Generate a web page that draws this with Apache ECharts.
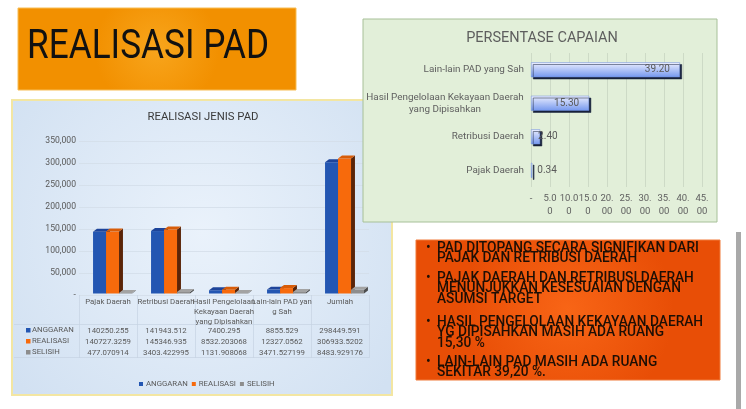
<!DOCTYPE html>
<html><head><meta charset="utf-8">
<script src="https://cdn.jsdelivr.net/npm/echarts@6/dist/echarts.min.js"></script>
<style>html,body{margin:0;padding:0;background:#fff;}#c{width:746px;height:409px;}</style>
</head><body><div id="c"></div>
<script>
// ---- data ----
const jenisCategories = ['Pajak Daerah', 'Retribusi Daerah', 'Hasil Pengelolaan\nKekayaan Daerah\nyang Dipisahkan', 'Lain-lain PAD yan\ng Sah', 'Jumlah'];
const anggaran = [140250.255, 141943.512, 7400.295, 8855.529, 298449.591];
const realisasi = [140727.3259, 145346.935, 8532.203068, 12327.0562, 306933.5202];
const selisih = [477.070914, 3403.422995, 1131.908068, 3471.527199, 8483.929176];
const seriesNames = ['ANGGARAN', 'REALISASI', 'SELISIH'];
const capaianCategories = ['Pajak Daerah', 'Retribusi Daerah', 'Hasil Pengelolaan Kekayaan Daerah\nyang Dipisahkan', 'Lain-lain PAD yang Sah'];
const capaianValues = [0.34, 2.40, 15.30, 39.20];
const capaianTickLabels = ['-', '5.0\n0', '10.0\n0', '15.0\n0', '20.\n00', '25.\n00', '30.\n00', '35.\n00', '40.\n00', '45.\n00'];
const bulletTexts = [
  'PAD DITOPANG SECARA SIGNIFIKAN DARI\nPAJAK DAN RETRIBUSI DAERAH',
  'PAJAK DAERAH DAN RETRIBUSI DAERAH\nMENUNJUKKAN KESESUAIAN DENGAN\nASUMSI TARGET',
  'HASIL PENGELOLAAN KEKAYAAN DAERAH\nYG DIPISAHKAN MASIH ADA RUANG\n15,30 %',
  'LAIN-LAIN PAD MASIH ADA RUANG\nSEKITAR 39,20 %.'
];

// ---- styles ----
const FONT = 'Roboto, "Liberation Sans", sans-serif';
const faceColors = [
  { front: '#2356b2', side: '#0f2a63', top: '#1d449a' },
  { front: '#f76a0c', side: '#5a2408', top: '#d85c08' },
  { front: '#8d8d8d', side: '#4d4d4d', top: '#a3a3a3' }
];
function fmtThousands(v) {
  if (v === 0) return '-';
  return String(v).replace(/\B(?=(\d{3})+(?!\d))/g, ',');
}
function make3D(sIdx) {
  const c = faceColors[sIdx];
  return function (params, api) {
    const ci = api.value(0), val = api.value(1);
    const base = api.coord([ci, 0]);
    const top = api.coord([ci, val]);
    const bw = api.size([1, 0])[0];
    const w = bw * 0.224;
    const x0 = base[0] - bw * 0.258 + sIdx * w;
    const dx = bw * 0.068, dy = dx * 0.75;
    const lift = 1.5;
    const yb = base[1] - lift, yt = Math.min(top[1] - lift, yb - 0.5);
    return {
      type: 'group',
      children: [
        { type: 'polygon', shape: { points: [[x0 + w, yt], [x0 + w + dx, yt - dy], [x0 + w + dx, yb - dy], [x0 + w, yb]] }, style: { fill: c.side } },
        { type: 'rect', shape: { x: x0, y: yt, width: w, height: yb - yt }, style: { fill: c.front } },
        { type: 'polygon', shape: { points: [[x0, yt], [x0 + dx, yt - dy], [x0 + w + dx, yt - dy], [x0 + w, yt]] }, style: { fill: c.top } }
      ]
    };
  };
}
const rowValues = [anggaran, realisasi, selisih];
const tableAxes = rowValues.map((arr, r) => ({
  type: 'category', gridIndex: 0, position: 'bottom', offset: 30.5 + r * 11,
  data: jenisCategories,
  axisLine: { show: false }, axisTick: { show: false }, splitLine: { show: false },
  axisLabel: { interval: 0, margin: 0, fontSize: 7.8, lineHeight: 11, color: '#595959', fontFamily: FONT,
    formatter: (v, idx) => String(arr[idx]) }
}));

const graphics = [
  // title box
  { type: 'rect', z: -2, shape: { x: 18, y: 8, width: 278, height: 82 },
    style: { fill: new echarts.graphic.RadialGradient(0.5, 0.5, 0.75, [{ offset: 0, color: '#f8a51c' }, { offset: 1, color: '#f29000' }]), stroke: '#f7bd55', lineWidth: 1 } },
  { type: 'text', z: 10, x: 27, y: 48, scaleX: 0.88,
    style: { text: 'REALISASI PAD', fontSize: 40, fontFamily: FONT, fill: '#111111', verticalAlign: 'middle', align: 'left' } },
  // left panel
  { type: 'rect', z: -2, shape: { x: 12, y: 100, width: 380, height: 295 },
    style: { fill: new echarts.graphic.RadialGradient(0.5, 0.45, 0.8, [{ offset: 0, color: '#eaf2fb' }, { offset: 1, color: '#d2e1f2' }]), stroke: '#f3e6a2', lineWidth: 2 } },
  { type: 'text', z: 10, x: 203, y: 117,
    style: { text: 'REALISASI JENIS PAD', fontSize: 11.3, fontFamily: FONT, fill: '#3a3a3a', align: 'center', verticalAlign: 'middle' } },
  { type: 'line', z: -1, shape: { x1: 14, y1: 324.5, x2: 369, y2: 324.5 }, style: { stroke: '#c5d3e3', lineWidth: 0.7 } },
  { type: 'line', z: -1, shape: { x1: 14, y1: 357.5, x2: 369, y2: 357.5 }, style: { stroke: '#c5d3e3', lineWidth: 0.7 } },
  // green panel
  { type: 'rect', z: 3, shape: { x: 363, y: 19, width: 354, height: 203 },
    style: { fill: '#e2efd9', stroke: '#a7c098', lineWidth: 1 } },
  { type: 'text', z: 10, x: 542, y: 38,
    style: { text: 'PERSENTASE CAPAIAN', fontSize: 14.5, fontFamily: FONT, fill: '#5e5e5e', align: 'center', verticalAlign: 'middle' } },
  // bullet box
  { type: 'rect', z: -2, shape: { x: 416, y: 240, width: 304, height: 140 },
    style: { fill: new echarts.graphic.RadialGradient(0.5, 0.5, 0.75, [{ offset: 0, color: '#f86516' }, { offset: 1, color: '#e84e06' }]), stroke: '#f07a3a', lineWidth: 1 } },
  // right gray strip
  { type: 'rect', z: -2, shape: { x: 736, y: 232, width: 5, height: 177 }, style: { fill: '#a9a9a9' } }
];
// row labels of data table
rowValues.forEach((arr, r) => {
  graphics.push({ type: 'rect', z: 10, shape: { x: 26, y: 328 + r * 11, width: 4.5, height: 4.5 }, style: { fill: faceColors[r].front } });
  graphics.push({ type: 'text', z: 10, x: 32, y: 330.5 + r * 11,
    style: { text: seriesNames[r], fontSize: 7.8, fontFamily: FONT, fill: '#595959', verticalAlign: 'middle' } });
});
// bullets
const bulletY = [248, 278, 322, 362];
bulletTexts.forEach((t, i) => {
  graphics.push({ type: 'text', z: 10, x: 426, y: bulletY[i],
    style: { text: '•', fontSize: 14, fontFamily: FONT, fill: '#1e0f05', verticalAlign: 'middle' } });
  graphics.push({ type: 'text', z: 10, x: 437, y: bulletY[i] - 5.25, scaleX: 0.98,
    style: { text: t, fontSize: 14, fontWeight: 500, lineHeight: 10.5, fontFamily: FONT, fill: '#1e0f05', verticalAlign: 'top', align: 'left' } });
});

const option = {
  animation: false,
  backgroundColor: '#ffffff',
  textStyle: { fontFamily: FONT },
  graphic: { elements: graphics },
  legend: {
    data: seriesNames, left: 139, top: 380, icon: 'rect', itemWidth: 4, itemHeight: 4, itemGap: 4, padding: 0,
    textStyle: { fontSize: 7.8, color: '#595959', fontFamily: FONT, padding: [0, 0, 0, -2] }
  },
  grid: [
    { left: 79, top: 141, width: 290, height: 154 },
    { left: 531, top: 53, width: 171, height: 134 }
  ],
  xAxis: [
    { type: 'category', gridIndex: 0, data: jenisCategories,
      axisLine: { show: false },
      axisTick: { show: true, length: 63, lineStyle: { color: '#c5d3e3', width: 0.7 } },
      axisLabel: { interval: 0, margin: 2, fontSize: 7.8, lineHeight: 10, color: '#595959', fontFamily: FONT } }
  ].concat(tableAxes).concat([
    { type: 'value', gridIndex: 1, min: 0, max: 45, interval: 5, z: 5,
      axisLine: { show: false }, axisTick: { show: false },
      splitLine: { lineStyle: { color: 'rgba(140,150,140,0.3)', width: 0.8 } },
      axisLabel: { margin: 5, fontSize: 9.5, lineHeight: 13, color: '#606060', fontFamily: FONT, showMinLabel: true, showMaxLabel: true,
        formatter: v => capaianTickLabels[Math.round(v / 5)] } }
  ]),
  yAxis: [
    { type: 'value', gridIndex: 0, min: 0, max: 350000, interval: 50000,
      axisLine: { show: false }, axisTick: { show: false },
      splitLine: { lineStyle: { color: '#d3dde9', width: 0.8 } },
      axisLabel: { margin: 3, fontSize: 8.6, color: '#595959', fontFamily: FONT, formatter: fmtThousands } },
    { type: 'category', gridIndex: 1, data: capaianCategories, z: 5,
      axisLine: { show: false }, axisTick: { show: false },
      axisLabel: { margin: 7, fontSize: 9.9, lineHeight: 12, color: '#606060', fontFamily: FONT,
        formatter: v => v.indexOf('\n') >= 0 ? v.split('\n').map(s => '{c|' + s + '}').join('\n') : v,
        rich: { c: { width: 158, align: 'center', fontSize: 9.9, lineHeight: 12, color: '#606060', fontFamily: FONT } } } }
  ],
  series: [
    ...rowValues.map((arr, r) => ({
      type: 'custom', name: seriesNames[r], xAxisIndex: 0, yAxisIndex: 0,
      itemStyle: { color: faceColors[r].front },
      renderItem: make3D(r), encode: { x: 0, y: 1 },
      data: arr.map((v, i) => [i, v])
    })),
    {
      type: 'bar', name: 'Persentase', xAxisIndex: 4, yAxisIndex: 1, z: 6, barWidth: 15,
      itemStyle: {
        color: new echarts.graphic.LinearGradient(0, 0, 0, 1, [{ offset: 0, color: '#eef0ff' }, { offset: 1, color: '#7497ee' }]),
        borderColor: '#6f8fd8', borderWidth: 0.5,
        shadowColor: '#17203a', shadowOffsetX: 2, shadowOffsetY: 2, shadowBlur: 0
      },
      label: { show: true, fontSize: 10, color: '#5a5a5a', fontFamily: FONT, formatter: p => p.value.toFixed(2) },
      data: capaianValues.map(v => ({
        value: v,
        label: v > 10 ? { position: 'insideRight', distance: 10 } : { position: 'right', distance: v > 1 ? -2 : 5 }
      }))
    }
  ]
};
const chart = echarts.init(document.getElementById('c'), null, { renderer: 'canvas' });
chart.setOption(option);
</script></body></html>
